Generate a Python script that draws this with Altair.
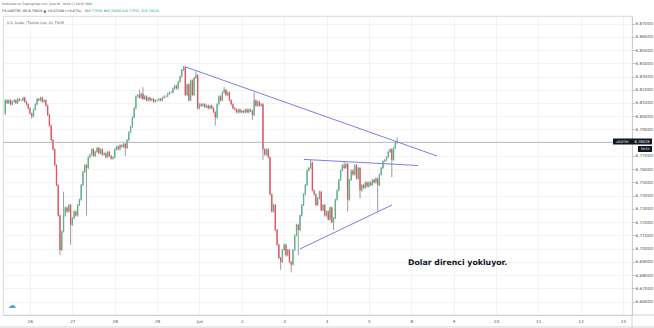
import altair as alt
import pandas as pd

# ---------------- data ----------------
first_open = 6.802
t_first = -14  # hours relative to May 26 00:00 (trading hours, weekends skipped)
closes = [
    6.812, 6.810, 6.812, 6.809, 6.811, 6.812, 6.810, 6.813, 6.812, 6.812,
    6.814, 6.811, 6.809, 6.806, 6.802, 6.800, 6.805, 6.809, 6.813, 6.812,
    6.814, 6.811, 6.812, 6.808, 6.801, 6.793, 6.782, 6.775, 6.763, 6.748,
    6.725, 6.699, 6.713, 6.725, 6.731, 6.728, 6.733, 6.718, 6.723, 6.728,
    6.725, 6.733, 6.737, 6.748, 6.758, 6.763, 6.761, 6.769, 6.771, 6.775,
    6.770, 6.773, 6.776, 6.772, 6.775, 6.771, 6.772, 6.769, 6.773, 6.770,
    6.768, 6.769, 6.775, 6.777, 6.775, 6.778, 6.777, 6.779, 6.776, 6.782,
    6.788, 6.792, 6.799, 6.806, 6.815, 6.816, 6.814, 6.817, 6.813, 6.815,
    6.812, 6.814, 6.812, 6.813, 6.811, 6.812, 6.812, 6.813, 6.812, 6.814,
    6.815, 6.815, 6.817, 6.818, 6.818, 6.821, 6.823, 6.821, 6.826, 6.830,
    6.835, 6.837, 6.816, 6.824, 6.812, 6.827, 6.816, 6.829, 6.831, 6.806,
    6.809, 6.808, 6.809, 6.807, 6.808, 6.806, 6.808, 6.806, 6.803, 6.799,
    6.809, 6.815, 6.812, 6.818, 6.820, 6.816, 6.818, 6.812, 6.809, 6.806,
    6.805, 6.803, 6.805, 6.803, 6.804, 6.803, 6.805, 6.803, 6.805, 6.804,
    6.801, 6.812, 6.808, 6.811, 6.808, 6.809, 6.775, 6.771, 6.775, 6.769,
    6.741, 6.728, 6.733, 6.714, 6.703, 6.693, 6.690, 6.699, 6.703, 6.695,
    6.699, 6.690, 6.688, 6.699, 6.710, 6.718, 6.714, 6.725, 6.733, 6.741,
    6.748, 6.759, 6.761, 6.765, 6.744, 6.741, 6.733, 6.738, 6.743, 6.729,
    6.733, 6.725, 6.728, 6.722, 6.731, 6.720, 6.723, 6.737, 6.744, 6.752,
    6.759, 6.763, 6.761, 6.764, 6.737, 6.752, 6.759, 6.756, 6.763, 6.753,
    6.761, 6.744, 6.748, 6.746, 6.750, 6.747, 6.750, 6.748, 6.752, 6.750,
    6.753, 6.748, 6.756, 6.761, 6.766, 6.767, 6.769, 6.773, 6.775, 6.767,
    6.776, 6.780, 6.78028,
]
wick = 0.0008  # typical small wick beyond the body
high_marks = {33: 6.743, 76: 6.820, 78: 6.822, 101: 6.838, 108: 6.834, 124: 6.822,
              141: 6.818, 173: 6.767, 192: 6.766, 222: 6.784}
low_marks = {15: 6.798, 31: 6.695, 37: 6.703, 46: 6.725, 68: 6.770, 119: 6.793,
             140: 6.797, 146: 6.767, 156: 6.684, 162: 6.682, 166: 6.695, 186: 6.714,
             194: 6.728, 201: 6.738, 211: 6.728, 219: 6.754}

day_ticks = [0, 24, 48, 72, 96, 120, 144, 168, 192, 216, 240, 264, 288, 312, 336]
day_labels = ["26", "27", "28", "29", "Jun", "2", "3", "4", "5", "8", "9", "10", "11", "12", "15"]
# 6.78000 sits under the current-price tag, so it is not labelled
price_ticks = [6.66, 6.67, 6.68, 6.69, 6.70, 6.71, 6.72, 6.73, 6.74, 6.75, 6.76,
               6.77, 6.79, 6.80, 6.81, 6.82, 6.83, 6.84, 6.85, 6.86, 6.87]
last_price = 6.78028

# drawn trend lines (time, price) -> (time, price)
line_t1 = [87.8, 155.2, 153.0]
line_p1 = [6.8374, 6.7674, 6.6998]
line_t2 = [230.6, 219.8, 205.1]
line_p2 = [6.7700, 6.7628, 6.7330]

note_text = "Dolar direnci yokluyor."
note_t, note_p = 214.2, 6.6892

# ---------------- table ----------------
rows = []
for i, c in enumerate(closes):
    o = first_open if i == 0 else closes[i - 1]
    hi = high_marks.get(i, max(o, c) + wick)
    lo = low_marks.get(i, min(o, c) - wick)
    rows.append({"t": t_first + i, "open": o, "close": c, "high": hi, "low": lo,
                 "up": c >= o})
df = pd.DataFrame(rows)
lines_df = pd.DataFrame({"t": line_t1, "p": line_p1, "t2": line_t2, "p2": line_p2})

# ---------------- scales / axes ----------------
W, H = 629, 299
xs = alt.Scale(domain=[-15.3, 341.1], nice=False, zero=False)
ys = alt.Scale(domain=[6.6499, 6.8757], nice=False, zero=False)
FONT = "DejaVu Sans"

label_map = "{" + ",".join(f"'{t}':'{l}'" for t, l in zip(day_ticks, day_labels)) + "}"
x_axis = alt.Axis(values=day_ticks, labelExpr=f"{label_map}[datum.value]", grid=True,
                  gridColor="#eeeeee", gridWidth=0.7, domainColor="#c8c8c8", domainWidth=0.8,
                  ticks=False, labelFontSize=4.2, labelColor="#555555", labelPadding=4,
                  labelFont=FONT, labelFlush=False, labelOverlap=False, title=None)
y_axis = alt.Axis(orient="right", values=price_ticks, format=".5f", grid=True,
                  gridColor="#eeeeee", gridWidth=0.7, domainColor="#c8c8c8", domainWidth=0.8,
                  tickColor="#aaaaaa", tickSize=2, labelPadding=1, labelFontSize=4.2,
                  labelColor="#555555", labelFont=FONT, labelOverlap=False,
                  labelFlush=False, labelBound=False, title=None)


def X(field):
    return alt.X(field, scale=xs, axis=x_axis)


def Y(field):
    return alt.Y(field, scale=ys, axis=y_axis)


base = alt.Chart(df)
wicks = base.mark_rule(color="#737375", strokeWidth=0.7).encode(
    x=X("t:Q"), y=Y("low:Q"), y2="high:Q")
bodies = base.mark_rule(strokeWidth=1.3).encode(
    x=X("t:Q"), y=Y("open:Q"), y2="close:Q",
    color=alt.condition("datum.up", alt.value("#53b987"), alt.value("#eb4d5c")),
)
price_line = alt.Chart(pd.DataFrame({"p": [last_price]})).mark_rule(
    color="#9598a1", strokeWidth=0.7).encode(y=Y("p:Q"))
trend = alt.Chart(lines_df).mark_rule(color="#6b70e0", strokeWidth=0.9).encode(
    x=X("t:Q"), y=Y("p:Q"), x2="t2:Q", y2="p2:Q")
note = alt.Chart(pd.DataFrame({"t": [note_t], "p": [note_p], "s": [note_text]})).mark_text(
    align="left", baseline="middle", fontSize=7.8, fontWeight="bold", font=FONT,
    color="#131722").encode(x=X("t:Q"), y=Y("p:Q"), text="s:N")

one = pd.DataFrame({"a": [0]})


def ptext(s, x, y, size, color, weight="normal", align="left"):
    return alt.Chart(one).mark_text(text=s, align=align, baseline="middle", fontSize=size,
                                    color=color, fontWeight=weight, font=FONT).encode(
        x=alt.value(x), y=alt.value(y))


def prect(x, x2, y, y2, color):
    return alt.Chart(one).mark_rect(color=color).encode(
        x=alt.value(x), x2=alt.value(x2), y=alt.value(y), y2=alt.value(y2))


def pline(x, x2, y, y2, color="#c8c8c8"):
    return alt.Chart(one).mark_rule(color=color, strokeWidth=0.8).encode(
        x=alt.value(x), x2=alt.value(x2), y=alt.value(y), y2=alt.value(y2))


teal = "#26a69a"
dark = "#333333"
header = [
    ptext("Published on TradingView.com, June 05, 2020 17:29:07 MSK", -1, -12, 3.0, "#555555"),
    ptext("FX:USDTRY, 60  6.78028 \u25b2 +0.03148 (+0.47%)", -1, -5, 3.4, dark),
    ptext("O:", 82, -5, 3.4, dark), ptext("6.77850", 85.5, -5, 3.4, teal),
    ptext("H:", 101, -5, 3.4, dark), ptext("6.78400", 104.5, -5, 3.4, teal),
    ptext("L:", 119.7, -5, 3.4, dark), ptext("6.77551", 122.5, -5, 3.4, teal),
    ptext("C:", 138.7, -5, 3.4, dark), ptext("6.78028", 142, -5, 3.4, teal),
    ptext("U.S. Dollar / Turkish Lira, 1h, FXCM", 4, 6.7, 3.3, "#555555"),
]
labels = [
    prect(610, 629, 122.5, 128.5, "#131722"),
    ptext("USDTRY", 619.5, 125.5, 3.2, "white", align="center"),
    prect(629, 649, 122.5, 128.5, "#131722"),
    ptext("6.78028", 639, 125.5, 3.6, "white", align="center"),
    prect(635, 649, 130, 136, "#131722"),
    ptext("30:54", 642, 133.2, 3.2, "white", align="center"),
]
frame = [
    pline(629, 629, 299, 312),
    pline(629, 651, 299, 299),
    pline(-3, 651, 311, 311),
]
logo = [ptext("\u2601", 5, 290, 8, "#4d9de0")]

chart = alt.layer(wicks, bodies, price_line, trend, note, *header, *labels, *frame, *logo).properties(
    width=W, height=H,
    padding={"left": 3, "top": 16, "right": 22, "bottom": 13},
    autosize=alt.AutoSizeParams(type="none"),
    background="white",
).configure_view(stroke="#cfcfcf", strokeWidth=0.8)

chart.save("out.html", embed_options={"renderer": "svg", "actions": False})
